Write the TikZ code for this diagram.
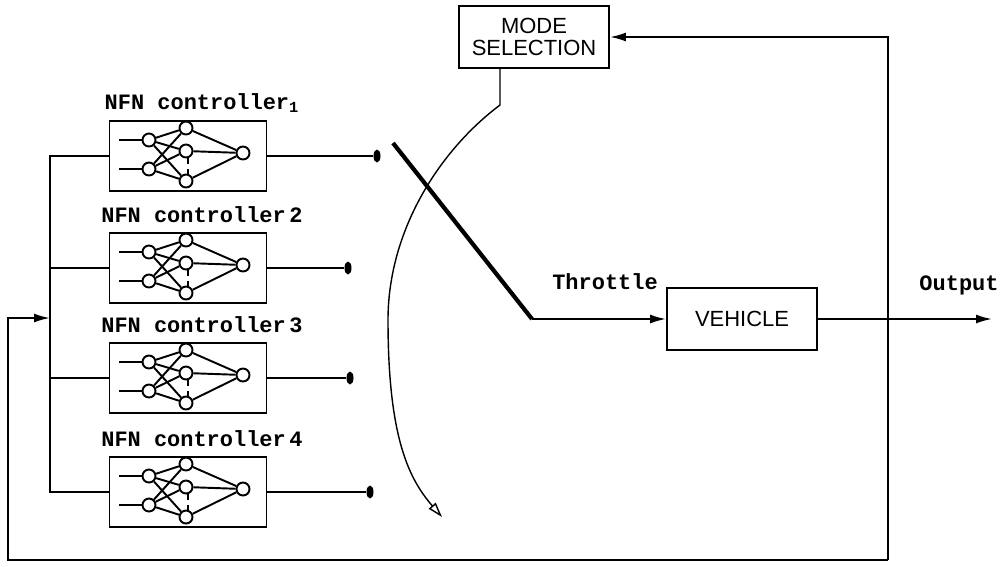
\documentclass[tikz,border=0pt]{standalone}
\usepackage{fontspec}
\setmainfont{Liberation Sans}
\newfontfamily\codefont{Liberation Mono}
\usetikzlibrary{arrows.meta,shapes.geometric,positioning}

\tikzset{
  blk/.style={draw, minimum width=3cm, minimum height=1.24cm, inner sep=0pt,
    align=center, font=\fontsize{12.5}{12.5}\selectfont},
  ctrl/.style={draw, minimum width=3.14cm, minimum height=1.41cm, inner sep=0pt},
  neuron/.style={circle, draw, fill=white, minimum size=0.26cm, inner sep=0pt},
  lbl/.style={inner sep=0pt, font=\codefont\bfseries\fontsize{12.5}{12.5}\selectfont},
  tipdot/.style={ellipse, fill, minimum width=0.14cm, minimum height=0.26cm, inner sep=0pt},
  arr/.style={-{Latex[length=0.32cm,width=0.18cm]}},
}

\begin{document}
\begin{tikzpicture}[x=0.02cm, y=-0.02cm, line width=1.1pt]
 \useasboundingbox (0,0) rectangle (1003,566);

 % four controllers
 \coordinate (bus) at (50,0);
 \foreach \i/\y/\d/\t in {1/156/377/{NFN controller\textsubscript{1}},
                          2/268/348/{NFN controller\,2},
                          3/378/350/{NFN controller\,3},
                          4/492/370/{NFN controller\,4}} {
   \node[ctrl] (c\i) at (188,\y) {};
   \node[lbl] (l\i) at (202,\y-53) {\t};
   \node[tipdot] (d\i) at (\d,\y) {};
   \draw (c\i.east) -- (d\i);
   \begin{scope}[shift={(c\i.center)}]
     \node[neuron] (c\i a) at (-39,-16) {};
     \node[neuron] (c\i b) at (-39,13) {};
     \node[neuron] (c\i h) at (-2,-28) {};
     \node[neuron] (c\i k) at (-2,-5) {};
     \node[neuron] (c\i m) at (-2,25) {};
     \node[neuron] (c\i o) at (55,-3) {};
   \end{scope}
   \draw (c\i a.west) -- ++(-23,0);
   \draw (c\i b.west) -- ++(-23,0);
   \foreach \p in {a,b}
     \foreach \h in {h,k,m}
       \draw (c\i\p) -- (c\i\h);
   \foreach \h in {h,k,m}
     \draw (c\i\h) -- (c\i o);
   \draw[dashed, line width=0.8pt] ([xshift=0.04cm]c\i k.south) -- ([xshift=0.04cm]c\i m.north);
 }

 \draw (c1.west) -- (c1.west -| bus) -- (c4.west -| bus) -- (c4.west);
 \draw (c2.west) -- (c2.west -| bus);
 \draw (c3.west) -- (c3.west -| bus);

 % switch and plant
 \coordinate (sw1) at (393,143);
 \coordinate (sw2) at (532,319);
 \draw[line width=2.4pt] (sw1) -- (sw2);
 \node[blk] (veh) at (742,319) {VEHICLE};
 \draw[arr] (sw2) -- (veh.west);
 \node[lbl] (thr) at (605,282) {Throttle};
 \coordinate (out) at (992,319);
 \draw[arr] (veh.east) -- (out);
 \node[lbl] (outlbl) at (959,285) {Output};

 % mode selection and feedback
 \node[blk] (mode) at (534,37) {MODE\\SELECTION};
 \coordinate (fbNE) at (888,37);
 \coordinate (fbSE) at (888,560);
 \coordinate (fbSW) at (8,560);
 \coordinate (fbW) at (8,318);
 \draw[arr] (fbSE) -- (fbNE) -- (mode.east);
 \draw[arr] (fbSE) -- (fbSW) -- (fbW) -- (fbW -| bus);

 \coordinate (selA) at (500,105);
 \coordinate (selEnd) at (442,517);
 \draw[line width=0.8pt, -{Triangle[open,length=0.3cm,width=0.18cm]}]
   (mode.south -| selA) -- (selA) .. controls (440,150) and (388,230) .. (388,320)
   .. controls (388,440) and (410,480) .. (selEnd);
\end{tikzpicture}
\end{document}
